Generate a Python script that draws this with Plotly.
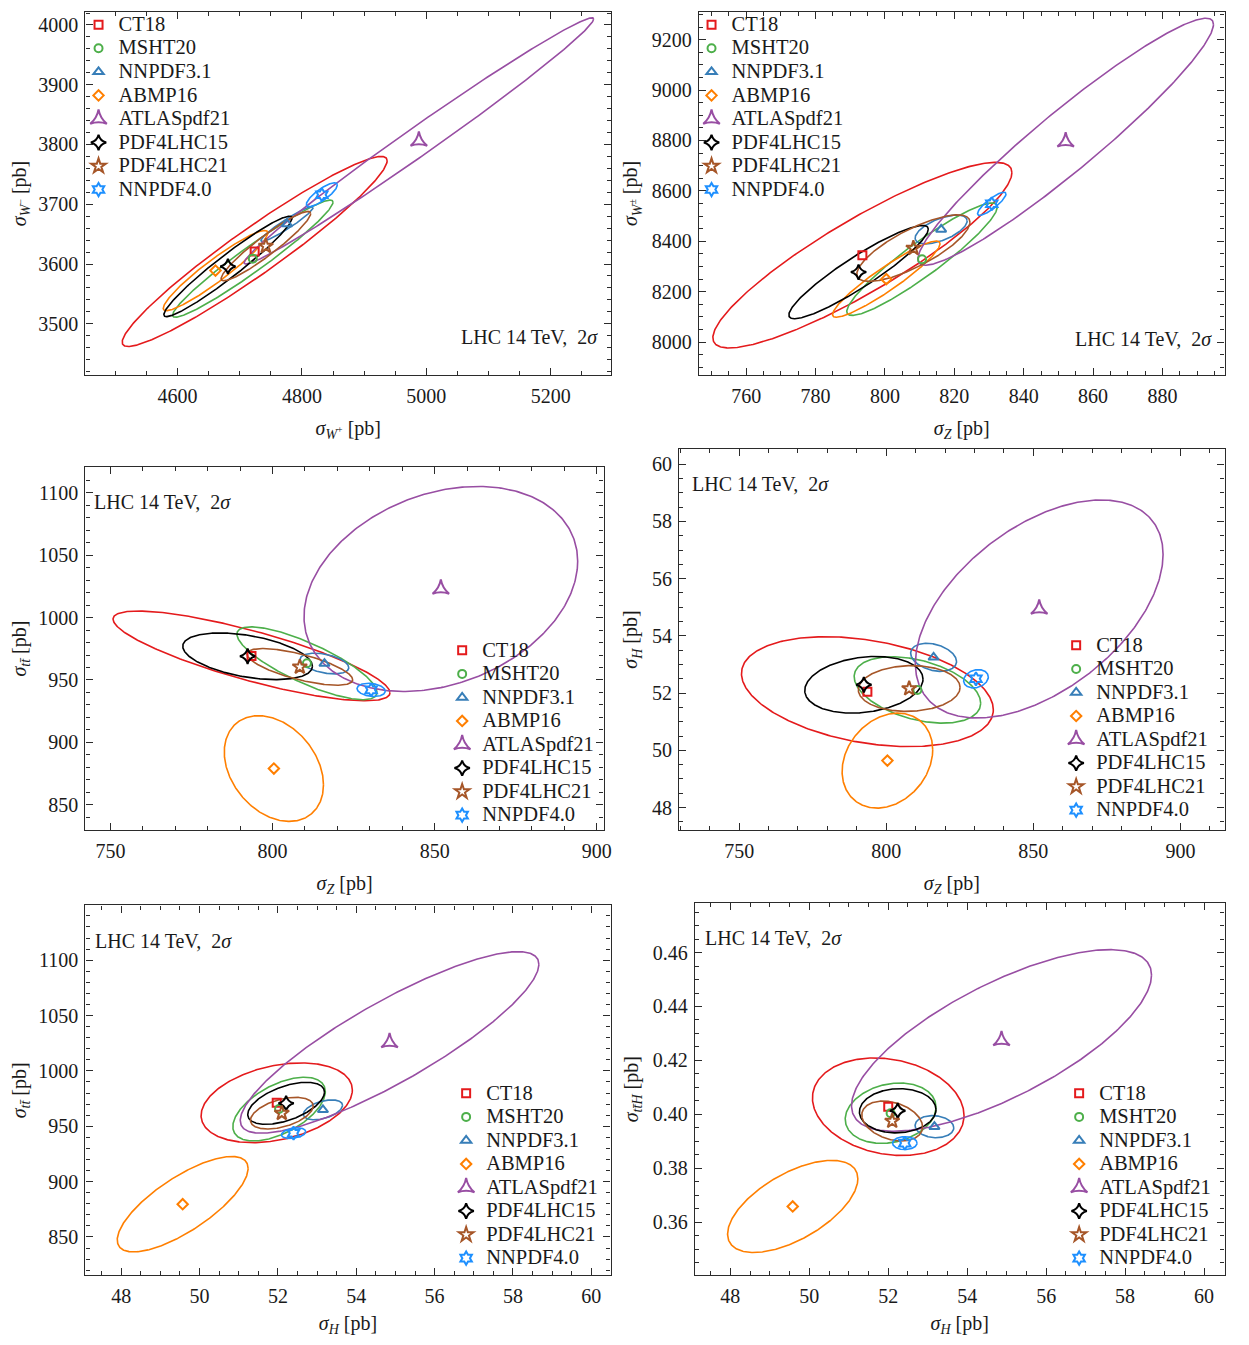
import numpy as np
import plotly.graph_objects as go

# ---------------- data ----------------
pdf_names = ["CT18", "MSHT20", "NNPDF3.1", "ABMP16", "ATLASpdf21", "PDF4LHC15", "PDF4LHC21", "NNPDF4.0"]
pdf_colors = ["#e41a1c", "#4daf4a", "#377eb8", "#ff7f00", "#984ea3", "#000000", "#a65628", "#1e90ff"]
pdf_symbols = ["square-open", "circle-open", "triangle-up-open", "diamond-open",
               "star-triangle-up-open", "star-diamond-open", "star-open", "hexagram-open"]
marker_sizes = [8, 8, 9, 8, 12, 11, 11, 10]

# panel 1: sigma_W+ (x) vs sigma_W- (y)
wpwm_cx = [4724, 4721, 4776, 4661, 4988, 4681, 4742, 4832]
wpwm_cy = [3621, 3609, 3667, 3589, 3806, 3596, 3630, 3716]
wpwm_sx = [213, 129, 42, 84, 281, 103, 72, 25]
wpwm_sy = [159, 98, 29, 67, 206, 84, 58, 20]
wpwm_rho = [0.955, 0.965, 0.95, 0.94, 0.99, 0.96, 0.94, 0.82]

# panel 2: sigma_Z (x) vs sigma_W+- (y)
zw_cx = [793.5, 810.7, 816.2, 800.4, 852.1, 792.4, 808.2, 830.8]
zw_cy = [8345, 8329, 8447, 8250, 8795, 8278, 8373, 8549]
zw_sx = [43.1, 21.7, 7.5, 15.5, 42.6, 20.1, 16.3, 4.1]
zw_sy = [368, 223, 57, 151, 490, 185, 132, 46]
zw_rho = [0.89, 0.93, 0.6, 0.93, 0.95, 0.92, 0.78, 0.85]

# panel 3: sigma_Z (x) vs sigma_ttbar (y)
ztt_cx = [793.5, 810.6, 816.0, 800.4, 851.9, 792.3, 808.4, 830.4]
ztt_cy = [969.3, 963.4, 963.2, 879.0, 1023.0, 969.0, 960.5, 942.1]
ztt_sx = [42.7, 21.6, 7.5, 15.3, 42.2, 20.0, 16.3, 4.35]
ztt_sy = [36.0, 29.2, 8.3, 42.4, 82.2, 18.7, 14.7, 5.3]
ztt_rho = [-0.82, -0.8, -0.4, -0.31, 0.27, -0.43, -0.7, -0.2]

# panel 4: sigma_Z (x) vs sigma_H (y)
zh_cx = [793.6, 810.6, 816.1, 800.4, 852.0, 792.4, 807.8, 830.5]
zh_cy = [52.05, 52.11, 53.25, 49.64, 54.94, 52.29, 52.16, 52.50]
zh_sx = [42.8, 21.5, 7.8, 15.4, 42.1, 20.1, 17.3, 4.2]
zh_sy = [1.92, 1.16, 0.49, 1.66, 3.81, 0.99, 0.80, 0.32]
zh_rho = [-0.33, -0.4, -0.3, 0.23, 0.5, 0.2, 0.05, 0.2]

# panel 5: sigma_H (x) vs sigma_ttbar (y)
htt_cx = [51.97, 52.03, 53.15, 49.57, 54.85, 52.21, 52.10, 52.40]
htt_cy = [971.2, 965.5, 964.8, 879.6, 1025.7, 970.7, 961.8, 943.7]
htt_sx = [1.93, 1.18, 0.50, 1.67, 3.81, 0.98, 0.80, 0.31]
htt_sy = [36.0, 28.8, 9.0, 43.1, 82.0, 19.0, 14.3, 4.8]
htt_rho = [0.32, 0.55, 0.45, 0.75, 0.86, 0.53, 0.45, 0.3]

# panel 6: sigma_H (x) vs sigma_ttH (y)
htth_cx = [52.00, 52.06, 53.17, 49.58, 54.87, 52.24, 52.10, 52.42]
htth_cy = [0.4028, 0.4004, 0.3954, 0.3658, 0.4274, 0.4013, 0.3975, 0.3893]
htth_sx = [1.92, 1.15, 0.49, 1.65, 3.80, 0.97, 0.77, 0.31]
htth_sy = [0.0181, 0.0112, 0.0041, 0.0171, 0.0337, 0.0082, 0.0074, 0.0024]
htth_rho = [-0.18, 0.2, -0.1, 0.6, 0.72, 0.05, -0.3, 0.0]

label_text = "LHC 14 TeV,  2<i>σ</i>"

# ---------------- layout helpers ----------------
# the page body has an 8 px margin; positions below are page pixels
OFF = 8
W, H = 1249 - 2 * OFF, 1345 - 2 * OFF


def px_x(p):
    return min(1.0, max(0.0, (p - OFF) / W))


def px_y(p):
    return 1 - (p - OFF) / H


def dom_y(p):
    return min(1.0, max(0.0, px_y(p)))


panels = [
    dict(data=(wpwm_cx, wpwm_cy, wpwm_sx, wpwm_sy, wpwm_rho),
         xdom=(86, 615), ydom=(8.7, 373), xr=[4452, 5297], yr=[3414, 4022.2],
         xd=200, xm=50, yd=100, ym=20, yfmt=None,
         xt="<i>σ</i><sub><i>W</i><sup>+</sup></sub> [pb]",
         yt="<i>σ</i><sub><i>W</i><sup>−</sup></sub> [pb]",
         leg=(79, 5), lab=(604, 335, "right")),
    dict(data=(zw_cx, zw_cy, zw_sx, zw_sy, zw_rho),
         xdom=(703.5, 1232.5), ydom=(8.7, 373), xr=[746.4, 897.9], yr=[7869, 9310.8],
         xd=20, xm=5, yd=200, ym=50, yfmt=None,
         xt="<i>σ</i><sub><i>Z</i></sub> [pb]",
         yt="<i>σ</i><sub><i>W</i><sup>±</sup></sub> [pb]",
         leg=(696, 5), lab=(1222, 336.7, "right")),
    dict(data=(ztt_cx, ztt_cy, ztt_sx, ztt_sy, ztt_rho),
         xdom=(86, 607.5), ydom=(465, 829), xr=[742.3, 902.1], yr=[829.6, 1120.8],
         xd=50, xm=10, yd=50, ym=10, yfmt=None,
         xt="<i>σ</i><sub><i>Z</i></sub> [pb]",
         yt="<i>σ</i><sub><i>tt̄</i></sub> [pb]",
         leg=(445, 632), lab=(92.4, 500, "left")),
    dict(data=(zh_cx, zh_cy, zh_sx, zh_sy, zh_rho),
         xdom=(683.5, 1232.5), ydom=(447, 829), xr=[729.6, 915], yr=[47.21, 60.53],
         xd=50, xm=10, yd=2, ym=0.5, yfmt=None,
         xt="<i>σ</i><sub><i>Z</i></sub> [pb]",
         yt="<i>σ</i><sub><i>H</i></sub> [pb]",
         leg=(1063, 627), lab=(694, 481.7, "left")),
    dict(data=(htt_cx, htt_cy, htt_sx, htt_sy, htt_rho),
         xdom=(86, 614.5), ydom=(904.5, 1275), xr=[47.09, 60.49], yr=[815.5, 1149.4],
         xd=2, xm=0.5, yd=50, ym=10, yfmt=None,
         xt="<i>σ</i><sub><i>H</i></sub> [pb]",
         yt="<i>σ</i><sub><i>tt̄</i></sub> [pb]",
         leg=(449, 1076), lab=(93.5, 940, "left")),
    dict(data=(htth_cx, htth_cy, htth_sx, htth_sy, htth_rho),
         xdom=(699.3, 1232.5), ydom=(902.3, 1275), xr=[47.1, 60.52], yr=[0.3403, 0.4783],
         xd=2, xm=0.5, yd=0.02, ym=0.005, yfmt=".2f",
         xt="<i>σ</i><sub><i>H</i></sub> [pb]",
         yt="<i>σ</i><sub><i>tt̄H</i></sub> [pb]",
         leg=(1066, 1076), lab=(707.5, 936.7, "left")),
]


def ellipse(cx, cy, sx, sy, rho, n=361):
    t = np.linspace(0, 2 * np.pi, n)
    x = cx + sx * np.cos(t)
    y = cy + sy * (rho * np.cos(t) + np.sqrt(1 - rho ** 2) * np.sin(t))
    return x, y


fig = go.Figure()
AX = "#2b2b2b"
TXT = "#1a1a1a"
layout = dict(width=W, height=H, margin=dict(l=0, r=0, t=0, b=0),
              paper_bgcolor="white", plot_bgcolor="white",
              font=dict(family="Liberation Serif", size=20, color=TXT),
              annotations=[])

for i, p in enumerate(panels, start=1):
    sfx = "" if i == 1 else str(i)
    xa, ya = "x" + sfx, "y" + sfx
    legname = "legend" + sfx
    cxs, cys, sxs, sys_, rhos = p["data"]
    # ellipses
    for k in range(len(pdf_names)):
        ex, ey = ellipse(cxs[k], cys[k], sxs[k], sys_[k], rhos[k])
        fig.add_trace(go.Scatter(x=ex, y=ey, mode="lines", xaxis=xa, yaxis=ya,
                                 line=dict(color=pdf_colors[k], width=1.6),
                                 showlegend=False, hoverinfo="skip"))
    # central values (also legend entries)
    for k in range(len(pdf_names)):
        fig.add_trace(go.Scatter(
            x=[cxs[k]], y=[cys[k]], mode="markers", xaxis=xa, yaxis=ya,
            marker=dict(symbol=pdf_symbols[k], color=pdf_colors[k], size=marker_sizes[k],
                        line=dict(width=2, color=pdf_colors[k])),
            name='<span style="font-size:20.5px">' + pdf_names[k] + "</span>",
            legend=legname, showlegend=True))

    common = dict(showline=True, linecolor=AX, linewidth=1.3, mirror="allticks",
                  ticks="inside", ticklen=7, tickwidth=1.1, tickcolor=AX,
                  showgrid=False, zeroline=False, tickfont=dict(size=20, color=TXT),
                  title_font=dict(size=20, color=TXT))
    layout["xaxis" + sfx] = dict(common, domain=[px_x(p["xdom"][0]), px_x(p["xdom"][1])],
                                 anchor=ya, range=p["xr"], dtick=p["xd"], tick0=0,
                                 minor=dict(ticks="inside", ticklen=4, tickwidth=1, tickcolor=AX, dtick=p["xm"]),
                                 ticklabelstandoff=3,
                                 title=dict(text=p["xt"], standoff=14))
    ycfg = dict(common, domain=[dom_y(p["ydom"][1]), dom_y(p["ydom"][0])],
                anchor=xa, range=p["yr"], dtick=p["yd"], tick0=0,
                minor=dict(ticks="inside", ticklen=4, tickwidth=1, tickcolor=AX, dtick=p["ym"]),
                ticklabelstandoff=2,
                title=dict(text=p["yt"], standoff=8))
    if p["yfmt"]:
        ycfg["tickformat"] = p["yfmt"]
    layout["yaxis" + sfx] = ycfg
    layout[legname] = dict(x=px_x(p["leg"][0]), y=px_y(p["leg"][1]), xanchor="left", yanchor="top",
                           bgcolor="rgba(0,0,0,0)", borderwidth=0, itemwidth=30,
                           tracegroupgap=0, traceorder="normal",
                           font=dict(size=15.8, color=TXT, family="Liberation Serif"))
    lx, ly, anc = p["lab"]
    layout["annotations"].append(dict(text=label_text, xref="paper", yref="paper",
                                      x=px_x(lx), y=px_y(ly), xanchor=anc, yanchor="middle",
                                      showarrow=False, font=dict(size=20, color=TXT)))

fig.update_layout(**layout)
fig.write_html("out.html")
